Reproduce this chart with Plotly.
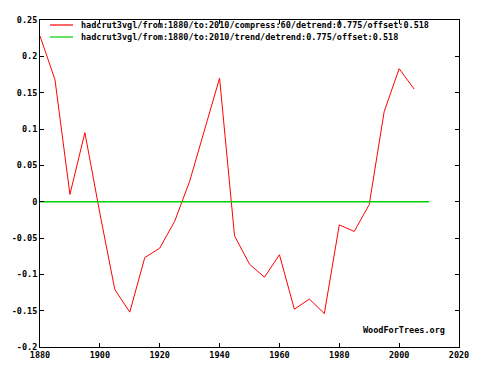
import plotly.graph_objects as go

years = [1880, 1885, 1890, 1895, 1900, 1905, 1910, 1915, 1920, 1925, 1930, 1935,
         1940, 1945, 1950, 1955, 1960, 1965, 1970, 1975, 1980, 1985, 1990, 1995,
         2000, 2005]
compressed = [0.228, 0.168, 0.010, 0.095, -0.016, -0.121, -0.152, -0.077, -0.064,
              -0.027, 0.028, 0.100, 0.170, -0.047, -0.086, -0.104, -0.073, -0.148,
              -0.134, -0.154, -0.032, -0.041, -0.004, 0.124, 0.183, 0.155]
trend_years = [1880, 2010]
trend_values = [0.0, 0.0]

x_ticks = [1880, 1900, 1920, 1940, 1960, 1980, 2000, 2020]
y_ticks = [0.25, 0.2, 0.15, 0.1, 0.05, 0, -0.05, -0.1, -0.15, -0.2]
y_labels = ["0.25", "0.2", "0.15", "0.1", "0.05", "0", "-0.05", "-0.1", "-0.15", "-0.2"]

name1 = "hadcrut3vgl/from:1880/to:2010/compress:60/detrend:0.775/offset:0.518"
name2 = "hadcrut3vgl/from:1880/to:2010/trend/detrend:0.775/offset:0.518"
red = "#ff0000"
green = "#00d000"

font = dict(family="DejaVu Sans Mono", size=8.5, color="black", weight="bold")

fig = go.Figure()
fig.add_trace(go.Scatter(x=years, y=compressed, mode="lines", name=name1,
                         line=dict(color=red, width=1)))
fig.add_trace(go.Scatter(x=trend_years, y=trend_values, mode="lines", name=name2,
                         line=dict(color=green, width=1.5)))

axis_common = dict(showline=True, linecolor="black", linewidth=1, mirror="ticks",
                   ticks="inside", ticklen=4, tickcolor="black", showgrid=False,
                   zeroline=False, tickfont=font, automargin=False)

# manual legend (compact gnuplot-style key)
legend_rows = [(name1, red, 0.9847), (name2, green, 0.948)]
shapes = []
annotations = []
for label, color, yy in legend_rows:
    shapes.append(dict(type="line", xref="paper", yref="paper", x0=0.0239, x1=0.0788,
                       y0=yy, y1=yy, line=dict(color=color, width=1.2)))
    annotations.append(dict(text=label, xref="paper", yref="paper", x=0.0931, y=yy,
                            xanchor="left", yanchor="middle", showarrow=False, font=font))
annotations.append(dict(text="WoodForTrees.org", xref="paper", yref="paper",
                        x=0.971, y=0.052, xanchor="right", yanchor="middle",
                        showarrow=False, font=font))

# page body has an 8px default margin, so the figure is sized to fit inside it
fig.update_layout(
    width=478, height=371,
    margin=dict(l=32, r=27, t=12, b=32),
    paper_bgcolor="white", plot_bgcolor="white",
    font=font,
    showlegend=False,
    xaxis=dict(range=[1880, 2020], tickvals=x_ticks, ticktext=[str(v) for v in x_ticks],
               **axis_common),
    yaxis=dict(range=[-0.2, 0.25], tickvals=y_ticks, ticktext=y_labels, **axis_common),
    shapes=shapes,
    annotations=annotations,
)

fig.write_html("out.html")
